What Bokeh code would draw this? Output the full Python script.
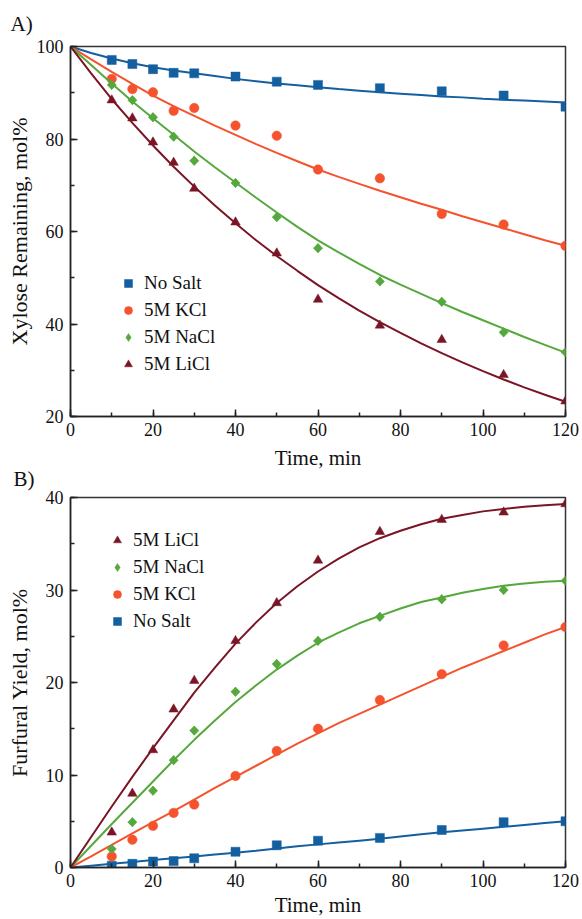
import math
from bokeh.plotting import figure
from bokeh.layouts import column
from bokeh.models import Range1d, SingleIntervalTicker, Legend, LegendItem
from bokeh.embed import file_html
from bokeh.resources import INLINE

FONT = "Liberation Serif"

# Sampling times of the measurements (min)
time_pts = [10, 15, 20, 25, 30, 40, 50, 60, 75, 90, 105, 120]

# Panel A: xylose remaining, mol%
xyl_nosalt = [97.1, 96.2, 95.1, 94.3, 94.2, 93.5, 92.4, 91.7, 91.0, 90.3, 89.4, 87.0]
xyl_kcl = [93.0, 90.8, 90.1, 86.1, 86.7, 82.9, 80.7, 73.4, 71.5, 63.8, 61.5, 56.9]
xyl_nacl = [91.7, 88.4, 84.7, 80.5, 75.3, 70.5, 63.1, 56.4, 49.2, 44.8, 38.2, 33.9]
xyl_licl = [88.4, 84.5, 79.3, 74.9, 69.3, 62.0, 55.3, 45.3, 39.7, 36.6, 29.0, 23.3]

# Panel B: furfural yield, mol%
fur_nosalt = [0.2, 0.4, 0.65, 0.7, 1.0, 1.7, 2.4, 2.9, 3.2, 4.05, 4.9, 5.0]
fur_kcl = [1.2, 3.0, 4.5, 5.9, 6.8, 9.9, 12.6, 15.0, 18.1, 20.9, 24.0, 26.0]
fur_nacl = [2.0, 4.9, 8.3, 11.6, 14.8, 19.0, 22.0, 24.5, 27.1, 29.0, 30.0, 31.0]
fur_licl = [3.8, 8.0, 12.7, 17.1, 20.2, 24.5, 28.6, 33.2, 36.3, 37.6, 38.4, 39.3]

# Kinetic model curves, every 5 min
fit_time = [0, 5, 10, 15, 20, 25, 30, 35, 40, 45, 50, 55, 60,
            65, 70, 75, 80, 85, 90, 95, 100, 105, 110, 115, 120]
xyl_fit_nosalt = [100, 98.6, 97.4, 96.4, 95.5, 94.8, 94.2, 93.6, 93.0, 92.5, 92.0, 91.6, 91.2,
                  90.8, 90.45, 90.1, 89.8, 89.5, 89.2, 89.0, 88.7, 88.5, 88.3, 88.1, 87.9]
xyl_fit_kcl = [100, 97.2, 94.5, 91.9, 89.4, 87.1, 85.0, 82.9, 80.9, 78.9, 77.0, 75.2, 73.4,
               71.8, 70.3, 68.8, 67.4, 66.0, 64.7, 63.3, 62.0, 60.7, 59.4, 58.1, 56.9]
xyl_fit_nacl = [100, 96.0, 92.0, 88.1, 84.5, 80.9, 77.3, 73.9, 70.6, 67.3, 64.1, 61.0, 58.1,
                55.5, 53.0, 50.6, 48.5, 46.5, 44.5, 42.6, 40.8, 39.0, 37.2, 35.5, 33.8]
xyl_fit_licl = [100, 94.2, 88.6, 83.5, 78.6, 74.0, 69.7, 65.6, 61.8, 58.1, 54.7, 51.5, 48.4,
                45.6, 42.9, 40.4, 38.1, 35.8, 33.7, 31.7, 29.8, 28.0, 26.3, 24.7, 23.2]

fur_fit_nosalt = [0, 0.2, 0.4, 0.6, 0.8, 1.0, 1.2, 1.4, 1.6, 1.8, 2.05, 2.3, 2.5,
                  2.7, 2.9, 3.1, 3.35, 3.6, 3.8, 4.0, 4.2, 4.4, 4.6, 4.8, 5.0]
fur_fit_kcl = [0, 1.2, 2.45, 3.7, 4.9, 6.1, 7.35, 8.6, 9.8, 11.0, 12.2, 13.4, 14.5,
               15.6, 16.6, 17.6, 18.6, 19.6, 20.6, 21.6, 22.5, 23.4, 24.3, 25.2, 26.0]
fur_fit_nacl = [0, 2.35, 4.7, 7.0, 9.3, 11.6, 13.8, 15.9, 17.9, 19.7, 21.4, 22.9, 24.3,
                25.4, 26.4, 27.2, 28.0, 28.7, 29.2, 29.7, 30.1, 30.45, 30.7, 30.9, 31.0]
fur_fit_licl = [0, 3.3, 6.6, 9.8, 12.9, 15.9, 18.9, 21.6, 24.2, 26.5, 28.6, 30.4, 32.0,
                33.4, 34.6, 35.6, 36.4, 37.1, 37.7, 38.1, 38.5, 38.75, 39.0, 39.15, 39.3]

BLUE = "#135f9f"
ORANGE = "#f4532e"
GREEN = "#55a83b"
DARKRED = "#7a1526"

# colour, marker, size
SERIES = {
    "No Salt": (BLUE, "square", 9),
    "5M KCl": (ORANGE, "circle", 9.5),
    "5M NaCl": (GREEN, "diamond", 9),
    "5M LiCl": (DARKRED, "triangle", 9.5),
}


def make_panel(height, left, right, top, bottom, yr, y_interval, ylabel,
               ylabel_standoff, xlabel_standoff, tag, tag_offset, tag_standoff, margin):
    p = figure(width=582, height=height, x_range=Range1d(0, 120), y_range=Range1d(*yr),
               output_backend="svg", toolbar_location=None,
               min_border_left=left, min_border_right=right,
               min_border_top=top, min_border_bottom=bottom, margin=margin)
    p.grid.visible = False
    p.border_fill_alpha = 0
    p.outline_line_color = "#333333"
    p.outline_line_width = 1.5

    p.title.text = tag
    p.title.align = "left"
    p.title.vertical_align = "middle"
    p.title.offset = tag_offset
    p.title.standoff = tag_standoff
    p.title.text_font = FONT
    p.title.text_font_size = "21px"
    p.title.text_font_style = "normal"
    p.title.text_color = "#111111"

    p.xaxis.ticker = SingleIntervalTicker(interval=20, num_minor_ticks=2)
    p.yaxis.ticker = SingleIntervalTicker(interval=y_interval, num_minor_ticks=2)
    for ax in (p.xaxis, p.yaxis):
        ax.axis_line_color = "#222222"
        ax.axis_line_width = 1.5
        ax.major_tick_line_color = "#222222"
        ax.major_tick_line_width = 1.5
        ax.minor_tick_line_color = "#222222"
        ax.minor_tick_line_width = 1.5
        ax.major_tick_in = 7
        ax.major_tick_out = 0
        ax.minor_tick_in = 4
        ax.minor_tick_out = 0
        ax.major_label_text_font = FONT
        ax.major_label_text_font_size = "18px"
        ax.major_label_text_color = "#111111"
        ax.axis_label_text_font = FONT
        ax.axis_label_text_font_size = "21px"
        ax.axis_label_text_font_style = "normal"
        ax.axis_label_text_color = "#111111"
    p.yaxis.axis_label_text_font_size = "22px"
    p.xaxis.major_label_standoff = 6
    p.yaxis.major_label_standoff = 7
    p.xaxis.axis_label = "Time, min"
    p.xaxis.axis_label_standoff = xlabel_standoff
    p.yaxis.axis_label = ylabel
    p.yaxis.axis_label_standoff = ylabel_standoff
    return p


def add_series(p, name, y, fit_y):
    color, marker, size = SERIES[name]
    r = p.scatter(time_pts, y, marker=marker, size=size, fill_color=color,
                  line_color=color, line_width=0.5)
    if marker == "diamond":
        # square rotated by 45 degrees gives the even-sided diamond on the chart
        p.scatter(time_pts, y, marker="square", size=size / math.sqrt(2) + 0.2,
                  angle=math.pi / 4, fill_color=color, line_color=color, line_width=0.5)
    p.line(fit_time, fit_y, line_color=color, line_width=2)
    return r


def add_legend(p, names, renderers, loc):
    items = [LegendItem(label=n, renderers=[renderers[n]]) for n in names]
    leg = Legend(items=items, location=loc, orientation="vertical",
                 glyph_width=20, glyph_height=26, label_height=26, label_standoff=6,
                 spacing=1, padding=0, margin=0,
                 border_line_alpha=0, background_fill_alpha=0,
                 label_text_font=FONT, label_text_font_size="19px",
                 label_text_color="#111111")
    p.add_layout(leg)


# Panel A
pa = make_panel(475, 70, 16, 46, 59, (20, 100), 20, "Xylose Remaining, mol%",
                2, 7, "A)", -60, 20, (0, 0, 0, 0))
ra = {
    "No Salt": add_series(pa, "No Salt", xyl_nosalt, xyl_fit_nosalt),
    "5M KCl": add_series(pa, "5M KCl", xyl_kcl, xyl_fit_kcl),
    "5M NaCl": add_series(pa, "5M NaCl", xyl_nacl, xyl_fit_nacl),
    "5M LiCl": add_series(pa, "5M LiCl", xyl_licl, xyl_fit_licl),
}
add_legend(pa, ["No Salt", "5M KCl", "5M NaCl", "5M LiCl"], ra, (48, 39))

# Panel B overlaps the empty strip under panel A's axis title
pb = make_panel(459, 69, 17, 37, 52, (0, 40), 10, "Furfural Yield, mol%",
                11, 3, "B)", -57, 11, (-15, 0, 0, 0))
rb = {
    "No Salt": add_series(pb, "No Salt", fur_nosalt, fur_fit_nosalt),
    "5M KCl": add_series(pb, "5M KCl", fur_kcl, fur_fit_kcl),
    "5M NaCl": add_series(pb, "5M NaCl", fur_nacl, fur_fit_nacl),
    "5M LiCl": add_series(pb, "5M LiCl", fur_licl, fur_fit_licl),
}
add_legend(pb, ["5M LiCl", "5M NaCl", "5M KCl", "No Salt"], rb, (37, 233))

layout = column(pa, pb, spacing=0)
open("out.html", "w").write(file_html(layout, INLINE))
